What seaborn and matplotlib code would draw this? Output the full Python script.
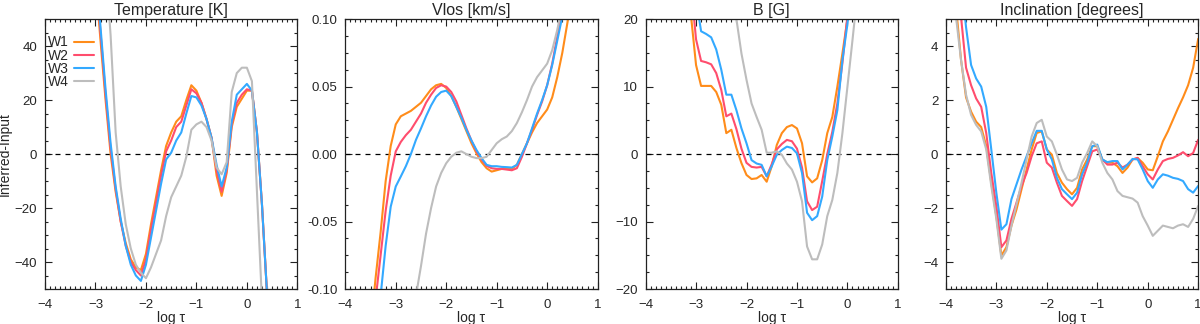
import numpy as np
import pandas as pd
import seaborn as sns
import matplotlib.pyplot as plt
from matplotlib.ticker import MultipleLocator

# ---- data: Inferred - Input as a function of log tau ----
names = ['W1', 'W2', 'W3', 'W4']
colors = {'W1': '#ff8c1a', 'W2': '#ff4d6d', 'W3': '#33a9ff', 'W4': '#bdbdbd'}

# Temperature [K]
tau_temp = np.round(np.arange(-3.0, 0.41, 0.1), 1)
temp_w1 = [65, 42, 20, 0, -14, -25, -33, -39, -42, -43, -37, -26, -16, -6, 3, 8, 12, 14, 20, 25.5,
           23.5, 19, 13, 6, -8, -15.5, -7, 10, 17.5, 20.5, 23.5, 23.5, 8, -19, -52]
temp_w2 = [68, 45, 22, 2, -13, -25, -34, -40, -43, -45, -39, -28, -18, -8, 1, 5, 10, 12, 18, 24,
           22.5, 19, 13, 6, -6, -14, -6, 11, 19, 22, 24, 23.5, 8, -19, -52]
temp_w3 = [70, 47, 24, 4, -12, -24, -34, -41, -45, -47, -41, -31, -21, -11, -2, 0.5, 5, 8, 15, 21.5,
           21, 18, 13, 6, -4, -12, -5, 12, 22, 24, 26, 23.5, 8, -19, -52]
temp_w4 = [120, 95, 70, 44, 8, -12, -26, -35, -41, -44, -46, -42, -37, -32, -23, -16, -12, -8, -1, 9,
           11, 12, 10, 5, -5, -7.5, -3, 23, 30, 32, 32, 27, -14, -55, -90]

# Vlos [km/s]
tau_vlos = np.round(np.arange(-3.5, 0.51, 0.1), 1)
vlos_w1 = [-0.13, -0.092, -0.058, -0.02, 0.006, 0.022, 0.028, 0.030, 0.032, 0.035, 0.038, 0.043, 0.048,
           0.051, 0.052, 0.049, 0.043, 0.035, 0.026, 0.017, 0.008, 0.0005, -0.006, -0.0105, -0.013,
           -0.012, -0.011, -0.011, -0.011, -0.008, 0.0, 0.008, 0.016, 0.023, 0.028, 0.033, 0.042,
           0.057, 0.075, 0.097, 0.12]
vlos_w2 = [-0.14, -0.108, -0.075, -0.042, -0.016, 0.002, 0.009, 0.014, 0.018, 0.024, 0.030, 0.038, 0.044,
           0.049, 0.051, 0.050, 0.046, 0.039, 0.029, 0.019, 0.010, 0.002, -0.004, -0.0087, -0.0105,
           -0.011, -0.011, -0.0115, -0.012, -0.0105, -0.002, 0.008, 0.018, 0.029, 0.039, 0.051, 0.067,
           0.087, 0.105, 0.13, 0.15]
vlos_w3 = [-0.17, -0.14, -0.105, -0.068, -0.039, -0.024, -0.0166, -0.009, 0.0, 0.0105, 0.019, 0.028, 0.036,
           0.0425, 0.046, 0.047, 0.043, 0.035, 0.027, 0.018, 0.010, 0.003, -0.003, -0.008, -0.009,
           -0.009, -0.0095, -0.0097, -0.010, -0.008, 0.0, 0.008, 0.019, 0.030, 0.040, 0.051, 0.066,
           0.084, 0.102, 0.125, 0.15]
vlos_w4 = [-0.30, -0.27, -0.23, -0.20, -0.17, -0.15, -0.135, -0.12, -0.112, -0.105, -0.083, -0.059, -0.040,
           -0.024, -0.014, -0.0068, -0.002, 0.001, 0.002, 0.0, -0.002, -0.003, -0.003, -0.002, 0.003,
           0.008, 0.011, 0.013, 0.017, 0.023, 0.031, 0.040, 0.050, 0.057, 0.062, 0.067, 0.077,
           0.092, 0.11, 0.13, 0.15]

# B [G]
tau_b = np.round(np.arange(-3.1, 0.21, 0.1), 1)
b_w1 = [20.5, 13.2, 10.1, 10.1, 10.1, 9.2, 7.3, 3.1, 3.6, 0.9, -1.35, -3.1, -3.7, -3.6, -3.1, -4.1, -1.8,
        1.35, 3.1, 4.0, 4.3, 3.8, 1.6, -3.3, -4.2, -3.6, -0.9, 3.1, 5.5, 10, 14.9, 20, 26, 32]
b_w2 = [25, 17, 13.8, 13.6, 13.3, 12, 9.5, 5.6, 6, 3.7, 0.8, -1.3, -1.9, -2.0, -1.9, -3.3, -1.5,
        0.7, 1.5, 2.1, 1.9, 0.8, -2.0, -7.0, -8.3, -7.8, -4, 0, 3.3, 7.5, 13.5, 20.5, 27, 33]
b_w3 = [30, 23, 18.2, 17.8, 17.3, 15.5, 12.5, 8.8, 8.8, 6.5, 3.8, 1.6, -0.9, -1.4, -1.6, -3.3, -1.8,
        -0.1, 0.6, 1.1, 0.9, 0.1, -2.8, -8.7, -9.8, -9.2, -6.3, -0.9, 2.6, 6.5, 13.9, 19.3, 26, 32]
b_w4 = [60, 52, 46, 40, 35, 31, 28, 25, 22.5, 20, 14.9, 11, 7.5, 5.5, 3.6, 0.2, 0.2,
        0.4, -0.1, -1.4, -2.3, -4.1, -7, -13.7, -15.6, -15.6, -13.4, -9.2, -6.8, -2.8, 3.1, 10, 16.9, 24]

# Inclination [degrees]
tau_inc = np.round(np.arange(-3.9, 1.01, 0.1), 1)
inc_w1 = [8, 5.5, 3.5, 2.1, 1.57, 1.2, 1.0, 0.3, -1.06, -2.3, -3.76, -3.45, -2.65, -2.05, -1.3, -0.57,
          0.17, 0.78, 0.84, 0.17, -0.02, -0.7, -1.06, -1.3, -1.49, -1.25, -0.57, -0.2, 0.29, 0.29,
          -0.2, -0.32, -0.32, -0.45, -0.7, -0.5, -0.2, -0.15, -0.32, -0.57, -0.6, -0.08, 0.47, 0.84,
          1.27, 1.7, 2.1, 2.55, 3.2, 4.27]
inc_w2 = [10, 7.5, 5.1, 3.2, 2.55, 2.06, 1.75, 0.78, -0.7, -1.92, -3.45, -3.2, -2.4, -1.8, -1.18, -0.7,
          -0.08, 0.4, 0.47, -0.32, -0.5, -1.06, -1.55, -1.74, -1.92, -1.67, -1.0, -0.45, 0.1, 0.17,
          -0.2, -0.39, -0.39, -0.32, -0.5, -0.39, -0.2, -0.14, -0.45, -0.75, -0.94, -0.57, -0.26, -0.18,
          -0.14, -0.05, 0.07, -0.08, 0.04, 0.53]
inc_w3 = [12, 9, 6.5, 4.7, 3.3, 2.8, 2.5, 1.75, 0.17, -1.43, -2.8, -2.6, -1.67, -1.12, -0.57, -0.08,
          0.4, 0.86, 0.86, 0.17, -0.2, -0.88, -1.3, -1.49, -1.67, -1.43, -0.75, -0.32, 0.29, 0.35,
          -0.2, -0.3, -0.26, -0.26, -0.57, -0.39, -0.18, -0.2, -0.57, -1.0, -1.25, -0.94, -0.75, -0.8,
          -0.88, -0.92, -1.0, -1.3, -1.43, -1.18]
inc_w4 = [8, 5.1, 3.5, 2.2, 1.45, 1.08, 0.84, 0.17, -1.18, -2.4, -3.88, -3.57, -2.65, -1.86, -1.06, -0.2,
          0.65, 1.15, 1.27, 0.65, 0.47, -0.02, -0.57, -0.94, -1.0, -0.88, -0.32, 0.04, 0.47, 0.29,
          -0.32, -0.7, -0.94, -1.37, -1.55, -1.6, -1.65, -1.8, -2.3, -2.65, -3.03, -2.84, -2.65, -2.7,
          -2.75, -2.65, -2.6, -2.7, -2.4, -1.92]

panels = [
    ('Temperature [K]', tau_temp, [temp_w1, temp_w2, temp_w3, temp_w4], (-50, 50), 20, 5),
    ('Vlos [km/s]', tau_vlos, [vlos_w1, vlos_w2, vlos_w3, vlos_w4], (-0.1, 0.1), 0.05, 0.0125),
    ('B [G]', tau_b, [b_w1, b_w2, b_w3, b_w4], (-20, 20), 10, 2.5),
    ('Inclination [degrees]', tau_inc, [inc_w1, inc_w2, inc_w3, inc_w4], (-5, 5), 2, 0.5),
]

sns.set_theme(style="ticks")
plt.rcParams['font.family'] = ['Liberation Sans', 'DejaVu Sans']

fig, axes = plt.subplots(1, 4, figsize=(12, 3.24), dpi=100)
fig.subplots_adjust(left=0.0375, right=0.9985, bottom=0.108, top=0.941, wspace=0.19)

for i, (title, tau, series, ylim, major, minor) in enumerate(panels):
    ax = axes[i]
    df = pd.concat([pd.DataFrame({'tau': tau, 'val': s, 'line': n}) for n, s in zip(names, series)])
    ax.axhline(0, color='black', linestyle=(0, (4, 4)), linewidth=0.9, zorder=1)
    sns.lineplot(data=df, x='tau', y='val', hue='line', palette=colors, linewidth=1.5,
                 sort=False, estimator=None, ax=ax, legend=(i == 0), zorder=2)
    ax.set_xlim(-4, 1)
    ax.set_ylim(*ylim)
    ax.xaxis.set_major_locator(MultipleLocator(1))
    ax.xaxis.set_minor_locator(MultipleLocator(0.1))
    ax.yaxis.set_major_locator(MultipleLocator(major))
    ax.yaxis.set_minor_locator(MultipleLocator(minor))
    ax.tick_params(which='both', direction='in', top=True, right=True, labelsize=9.5, width=0.8,
                   color='#222222')
    ax.tick_params(which='major', length=5)
    ax.tick_params(which='minor', length=2.5)
    ax.tick_params(axis='x', which='major', pad=7.5)
    ax.tick_params(axis='y', which='major', pad=5.5)
    for sp in ax.spines.values():
        sp.set_linewidth(0.9)
        sp.set_color('#222222')
    ax.set_title(title, fontsize=11.5, pad=3)
    ax.set_xlabel('log τ', fontsize=10, labelpad=0)
    ax.set_ylabel('Inferred-Input' if i == 0 else '', fontsize=10, labelpad=2)
    if i == 1:
        ax.yaxis.set_major_formatter(plt.FormatStrFormatter('%.2f'))

leg = axes[0].legend(loc='upper left', bbox_to_anchor=(0.0, 0.95), frameon=False, markerfirst=False,
                     fontsize=10, handlelength=1.4, handletextpad=0.4, labelspacing=-0.05,
                     borderaxespad=0.1, borderpad=0.1)

fig.savefig('out.png', dpi=100)
